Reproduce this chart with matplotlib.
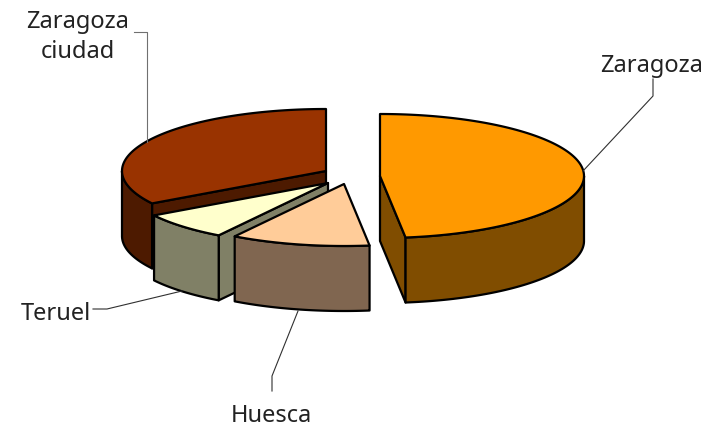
import numpy as np
import matplotlib
matplotlib.use('Agg')
import matplotlib.pyplot as plt

plt.rcParams['font.family'] = ['Noto Sans', 'DejaVu Sans']

# porcentaje de cada sector, en sentido horario desde arriba
labels = ['Zaragoza', 'Huesca', 'Teruel', 'Zaragoza\nciudad']
shares = [48.0, 11.0, 7.25, 33.75]
top_colors = ['#FF9900', '#FFCC99', '#FFFFCC', '#993300']
side_colors = ['#804D00', '#806650', '#808066', '#4D1A00']

# layout en pixeles de la imagen
RX, RY, DEPTH = 204.0, 62.0, 65.0
slice_x = [380, 344, 328, 326]
slice_y = [177, 185, 184, 172]
draw_order = [3, 0, 2, 1]

label_x = [652, 271, 56, 78]
label_y = [66, 416, 314, 37]
leader_x = [[583, 653, 653], [298, 272, 272], [182, 107, 93], [147, 147, 134]]
leader_y = [[172, 97, 80], [312, 377, 392], [292, 310, 310], [143, 33, 33]]
leader_colors = ['#303030', '#303030', '#303030', '#707070']

fig = plt.figure(figsize=(7.2, 4.27), dpi=100)
ax = fig.add_axes([0, 0, 1, 1])
ax.set_xlim(0, 720)
ax.set_ylim(427, 0)
ax.axis('off')


def rim(cx, cy, a0, a1):
    phi = np.radians(np.linspace(a0, a1, 120))
    return cx + RX * np.sin(phi), cy - RY * np.cos(phi)


def radial_wall(cx, cy, a, color, style):
    ex, ey = rim(cx, cy, a, a)
    ax.fill([cx, ex[0], ex[0], cx], [cy, ey[0], ey[0] + DEPTH, cy + DEPTH],
            facecolor=color, **style)


stops = np.concatenate([[0], np.cumsum(shares)]) * 360.0 / sum(shares)

for i in draw_order:
    cx, cy = slice_x[i], slice_y[i]
    a0, a1 = stops[i], stops[i + 1]
    style = dict(edgecolor='black', linewidth=1.6, joinstyle='round')

    # paredes radiales, solo las que se ven desde delante
    if 180 < a0 < 360:
        radial_wall(cx, cy, a0, side_colors[i], style)
    if 0 < a1 < 180:
        radial_wall(cx, cy, a1, side_colors[i], style)

    # pared exterior, solo la parte que mira al frente
    f0, f1 = max(a0, 90), min(a1, 270)
    if f1 > f0:
        x, y = rim(cx, cy, f0, f1)
        ax.fill(np.r_[x, x[::-1]], np.r_[y, y[::-1] + DEPTH],
                facecolor=side_colors[i], **style)

    # cara superior
    x, y = rim(cx, cy, a0, a1)
    ax.fill(np.r_[cx, x], np.r_[cy, y], facecolor=top_colors[i], **style)

for i in range(len(labels)):
    ax.plot(leader_x[i], leader_y[i], color=leader_colors[i], linewidth=0.8, zorder=1)
    ax.text(label_x[i], label_y[i], labels[i], ha='center', va='center',
            fontsize=17, color='#222222', linespacing=1.32)

fig.savefig('out.png', dpi=100)
